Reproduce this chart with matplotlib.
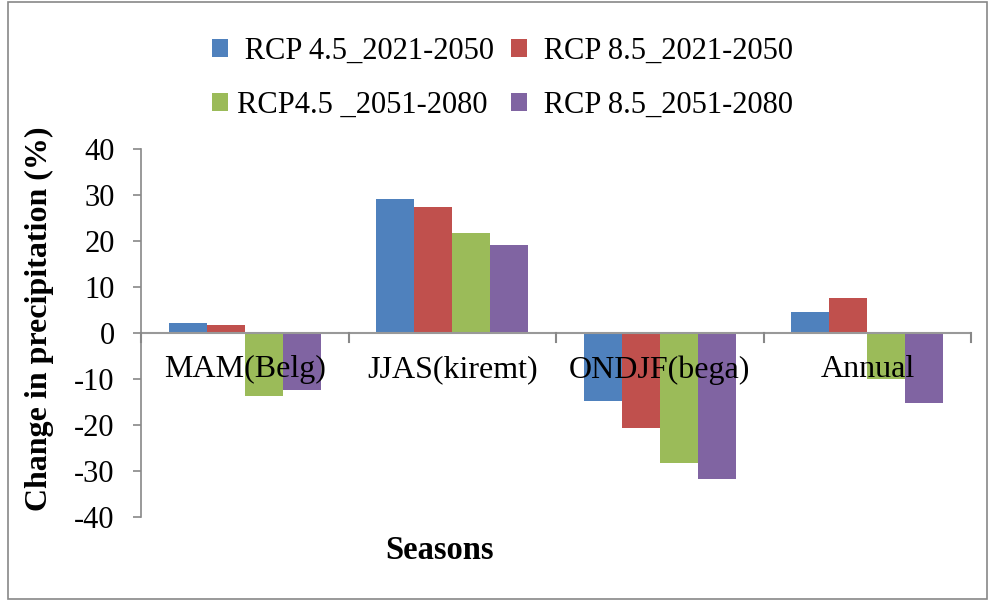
import numpy as np
import matplotlib.pyplot as plt
from matplotlib.patches import Rectangle

seasons = ["MAM(Belg)", "JJAS(kiremt)", "ONDJF(bega)", "Annual"]
rcp45_2021_2050 = [2.1, 29.1, -14.7, 4.6]
rcp85_2021_2050 = [1.7, 27.4, -20.6, 7.6]
rcp45_2051_2080 = [-13.7, 21.7, -28.3, -10.1]
rcp85_2051_2080 = [-12.4, 19.1, -31.7, -15.2]

series = [rcp45_2021_2050, rcp85_2021_2050, rcp45_2051_2080, rcp85_2051_2080]
names = [" RCP 4.5_2021-2050", " RCP 8.5_2021-2050", "RCP4.5 _2051-2080", " RCP 8.5_2051-2080"]
colors = ["#4F81BD", "#C0504D", "#9BBB59", "#8064A2"]

plt.rcParams['font.family'] = ['Liberation Serif', 'DejaVu Serif']
plt.rcParams['axes.unicode_minus'] = False

fig = plt.figure(figsize=(9.89, 6.01), dpi=100)
ax = fig.add_axes([0.1426, 0.1398, 0.8394, 0.6122])

x = np.arange(len(seasons))
w = 0.183
bars = []
for i in range(4):
    b = ax.bar(x + (i - 1.5) * w, series[i], w, color=colors[i], zorder=2)
    bars.append(b)

ax.set_xlim(-0.5, len(seasons) - 0.5)
ax.set_ylim(-40, 40)
ax.set_yticks(np.arange(-40, 41, 10))
ax.tick_params(axis='y', labelsize=22, length=6, width=1.2, color='#888888',
               direction='out', pad=13)
ax.set_xticks([])

for s in ['top', 'right', 'bottom']:
    ax.spines[s].set_visible(False)
ax.spines['left'].set_color('#888888')
ax.spines['left'].set_linewidth(1.2)

# zero line with category separators
ax.axhline(0, color='#999999', lw=1.5, zorder=3)
for k in range(len(seasons) + 1):
    ax.plot([k - 0.5, k - 0.5], [0, -2], color='#888888', lw=1.5, clip_on=False, zorder=3)

for k, s in enumerate(seasons):
    ax.text(k, -8, s, ha='center', va='center', fontsize=23, zorder=4)

ax.set_ylabel("Change in precipitation (%)", fontsize=23, fontweight='bold')
ax.yaxis.set_label_coords(-0.1045, 0.538)
ax.set_xlabel("Seasons", fontsize=23.5, fontweight='bold')
ax.xaxis.set_label_coords(0.36, -0.05)

handles = [bars[0], bars[2], bars[1], bars[3]]
labels = [names[0], names[2], names[1], names[3]]
fig.legend(handles, labels, ncol=2, loc='upper left', bbox_to_anchor=(0.208, 0.949),
           frameon=False, fontsize=22, handlelength=0.52, handleheight=0.52,
           handletextpad=0.3, columnspacing=0.57, labelspacing=0.82,
           borderaxespad=0, borderpad=0.2)

fig.patches.append(Rectangle((0.008, 0.004), 0.99, 0.992, transform=fig.transFigure,
                             fill=False, edgecolor='#888888', lw=1.2))

fig.savefig("out.png", dpi=100)
